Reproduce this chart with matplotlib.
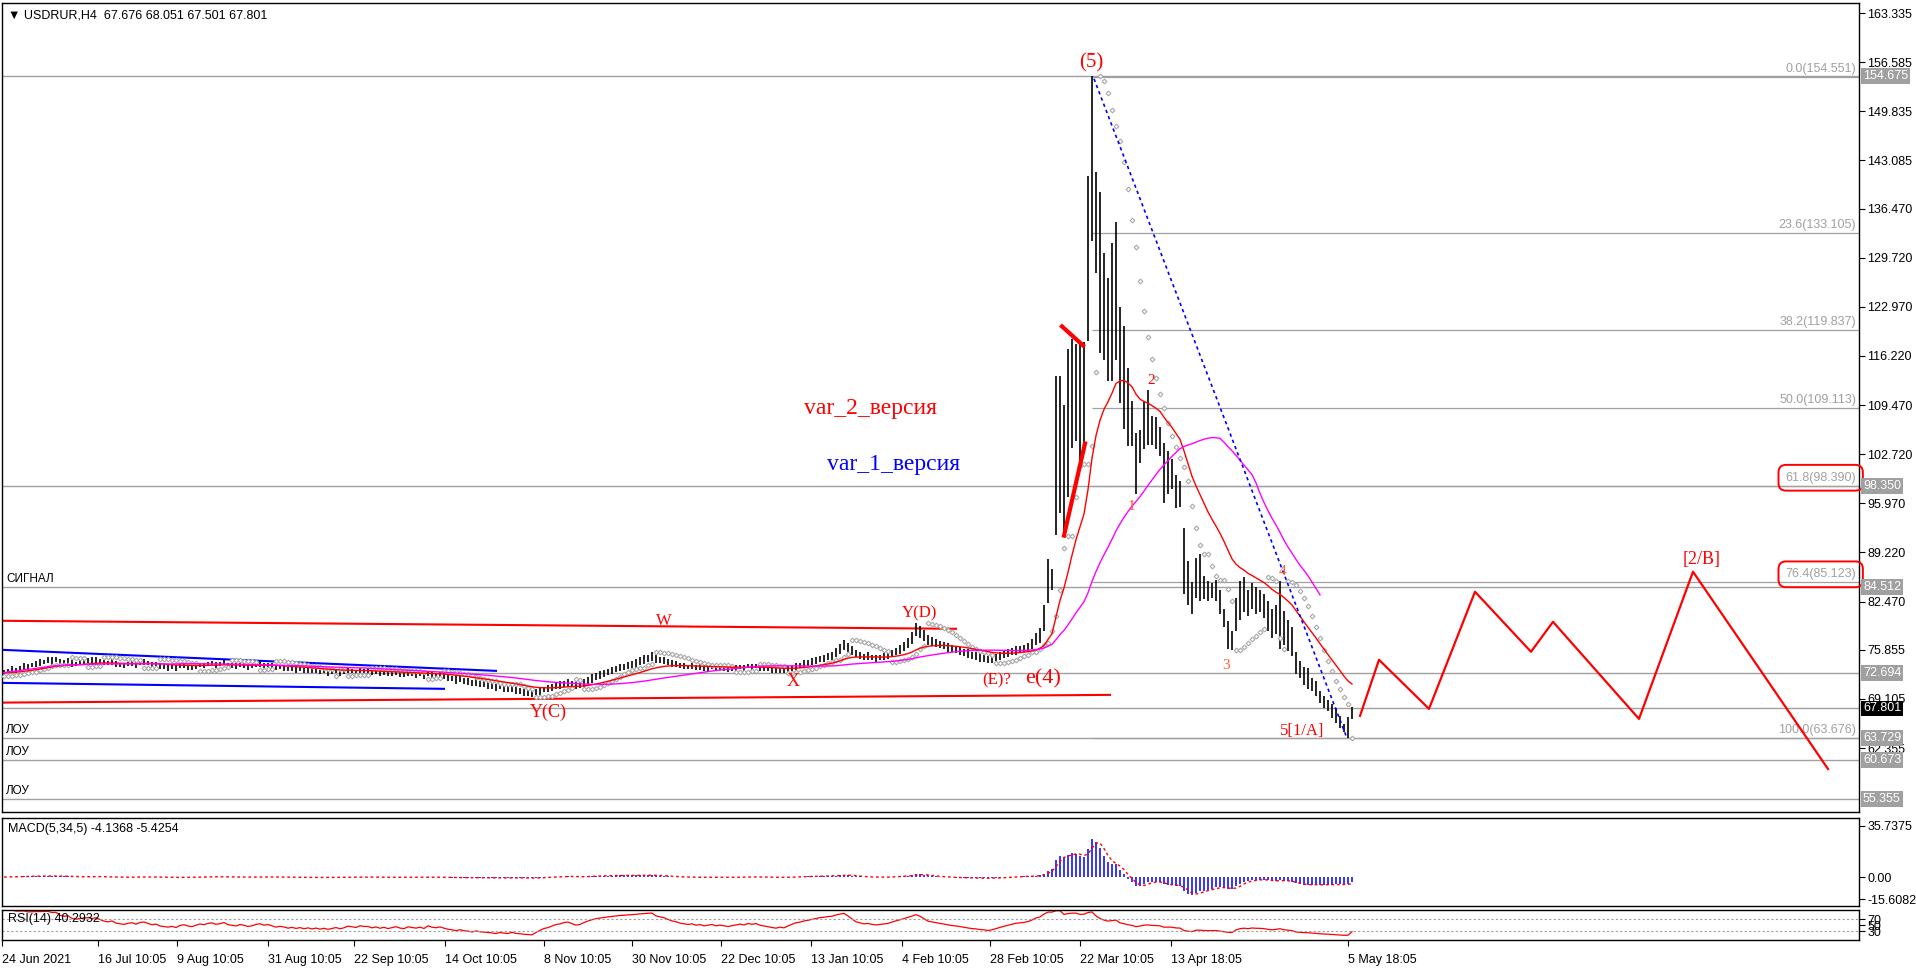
import numpy as np
import pandas as pd
import matplotlib
matplotlib.use("Agg")
import matplotlib.pyplot as plt

# ---- price data, one value every second H4 bar ----
flat_mid = [
    72.7, 72.9, 73.1, 73.0, 73.3, 73.6, 73.5, 73.8, 73.9, 74.1,
    74.2, 74.4, 74.3, 74.5, 74.2, 74.1, 74.3, 74.0, 73.9, 74.1,
    74.2, 74.4, 74.3, 74.5, 74.3, 74.1, 74.0, 74.2, 73.9, 73.8,
    73.7, 73.9, 74.0, 73.8, 74.1, 74.2, 74.0, 73.8, 73.9, 73.6,
    73.5, 73.4, 73.5, 73.3, 73.6, 73.7, 73.5, 73.4, 73.6, 73.8,
    73.7, 73.9, 74.0, 73.8, 73.9, 74.1, 73.8, 73.7, 73.6, 73.8,
    73.7, 73.5, 73.6, 73.8, 73.9, 73.7, 73.8, 73.6, 73.4, 73.5,
    73.4, 73.2, 73.3, 73.1, 73.2, 73.0, 73.1, 72.9, 73.0, 72.8,
    72.9, 72.7, 72.8, 72.9, 72.7, 72.8, 73.0, 72.9, 72.8, 73.0,
    72.9, 72.9, 72.7, 72.8, 72.6, 72.7, 72.5, 72.6, 72.7, 72.5,
    72.4, 72.6, 72.5, 72.4, 72.5, 72.3, 72.6, 72.4, 72.3, 72.4,
    72.2, 72.0, 71.9, 71.7, 71.8, 71.6, 71.5, 71.3, 71.4, 71.2,
    71.1, 71.0, 70.9, 70.7, 70.8, 70.6, 70.5, 70.6, 70.3, 70.2,
    70.0, 69.9, 69.8, 70.0, 70.2, 70.4, 70.5, 70.7, 70.9, 71.0,
    71.2, 71.3, 71.1, 70.9, 71.0, 71.3, 71.6, 71.9, 72.2, 72.4,
    72.6, 72.8, 73.0, 73.2, 73.4, 73.5, 73.7, 73.8, 74.0, 74.3,
    74.5, 74.7, 74.9, 74.6, 74.5, 74.4, 74.2, 74.0, 73.9, 73.7,
    73.6, 73.5, 73.6, 73.4, 73.5, 73.3, 73.4, 73.5, 73.3, 73.4,
    73.3, 73.2, 73.3, 73.4, 73.5, 73.4, 73.6, 73.5, 73.6, 73.4,
    73.3, 73.2, 73.1, 73.0, 73.1, 73.0, 73.2, 73.4, 73.6, 73.7,
    73.9, 74.0, 74.2, 74.4, 74.6, 74.7, 74.9, 75.0, 75.5, 76.0,
    76.5, 76.2, 75.8, 75.3, 75.1, 74.9, 75.0, 74.8, 74.7, 74.8,
    74.9, 75.0, 75.3, 75.6, 75.9, 76.3, 76.8, 77.5, 78.6, 78.3,
    77.8, 77.2, 77.0, 76.8, 76.6, 76.4, 76.2, 76.0, 75.9, 75.7,
    75.5, 75.3, 75.1, 75.0, 74.8, 74.7, 74.5, 74.6, 74.8, 75.0,
    75.2, 75.4, 75.6, 75.8, 75.9, 76.0, 76.2, 76.6, 77.3, 77.8,
]
flat_half = [
    0.4, 0.3, 0.5, 0.4, 0.3, 0.5, 0.4, 0.3, 0.4, 0.5,
    0.3, 0.4, 0.5, 0.3, 0.4, 0.3, 0.4, 0.5, 0.3, 0.4,
    0.4, 0.3, 0.5, 0.4, 0.3, 0.4, 0.3, 0.5, 0.4, 0.3,
    0.4, 0.3, 0.4, 0.5, 0.3, 0.4, 0.3, 0.4, 0.3, 0.4,
    0.3, 0.4, 0.3, 0.4, 0.3, 0.3, 0.4, 0.3, 0.4, 0.3,
    0.4, 0.3, 0.3, 0.4, 0.3, 0.4, 0.3, 0.3, 0.4, 0.3,
    0.3, 0.4, 0.3, 0.3, 0.4, 0.3, 0.3, 0.4, 0.3, 0.3,
    0.4, 0.3, 0.3, 0.4, 0.3, 0.3, 0.4, 0.3, 0.4, 0.3,
    0.3, 0.4, 0.3, 0.3, 0.4, 0.3, 0.4, 0.3, 0.3, 0.4,
    0.3, 0.4, 0.3, 0.3, 0.4, 0.3, 0.3, 0.4, 0.3, 0.4,
    0.3, 0.4, 0.3, 0.4, 0.3, 0.4, 0.3, 0.4, 0.3, 0.4,
    0.4, 0.5, 0.4, 0.5, 0.4, 0.4, 0.5, 0.4, 0.5, 0.4,
    0.4, 0.5, 0.4, 0.5, 0.4, 0.5, 0.4, 0.5, 0.5, 0.4,
    0.5, 0.4, 0.5, 0.4, 0.5, 0.4, 0.5, 0.5, 0.4, 0.5,
    0.4, 0.5, 0.4, 0.5, 0.4, 0.5, 0.5, 0.6, 0.5, 0.5,
    0.5, 0.4, 0.5, 0.4, 0.5, 0.4, 0.5, 0.5, 0.6, 0.5,
    0.6, 0.5, 0.6, 0.5, 0.4, 0.5, 0.4, 0.5, 0.4, 0.4,
    0.4, 0.3, 0.4, 0.3, 0.4, 0.3, 0.4, 0.3, 0.4, 0.3,
    0.3, 0.4, 0.3, 0.4, 0.3, 0.4, 0.3, 0.4, 0.3, 0.4,
    0.4, 0.3, 0.4, 0.3, 0.4, 0.3, 0.4, 0.4, 0.5, 0.4,
    0.5, 0.4, 0.5, 0.5, 0.4, 0.5, 0.5, 0.6, 0.6, 0.7,
    0.7, 0.6, 0.6, 0.5, 0.5, 0.4, 0.5, 0.4, 0.5, 0.4,
    0.5, 0.4, 0.5, 0.5, 0.6, 0.6, 0.7, 0.8, 0.9, 0.8,
    0.8, 0.7, 0.6, 0.6, 0.5, 0.5, 0.6, 0.5, 0.5, 0.6,
    0.5, 0.6, 0.5, 0.5, 0.6, 0.5, 0.5, 0.6, 0.5, 0.5,
    0.5, 0.6, 0.5, 0.6, 0.5, 0.5, 0.6, 0.7, 0.8, 1.0,
]
spike_high = [
    82.0, 88.3, 87.0, 113.5, 113.5, 109.5, 117.2, 118.6, 117.9, 118.2,
    118.2, 140.9, 154.7, 141.5, 138.8, 130.3, 126.9, 131.7, 134.6, 122.9,
    120.4, 114.5, 110.1, 105.6, 106.0, 110.1, 111.5, 108.0, 107.8, 106.5,
    104.3, 103.2, 102.0, 99.8, 99.0, 92.6, 88.0, 85.1, 88.5, 89.0,
    86.0, 85.3, 85.0, 85.5, 84.0, 81.5, 79.8, 78.5, 83.0, 85.3,
    85.8, 84.0, 85.0, 84.5, 84.0, 83.5, 82.5, 81.5, 82.0, 85.3,
    81.2, 80.0, 79.0, 75.5, 74.3, 73.5, 73.4, 72.0, 71.5, 70.2,
    69.5, 69.0, 68.4, 67.8, 66.8, 65.7, 66.6, 68.05,
]
spike_low = [
    78.5, 82.3, 84.0, 91.6, 94.6, 91.5, 96.8, 103.6, 104.6, 101.4,
    103.9, 118.3, 132.0, 127.6, 116.6, 115.6, 112.8, 112.8, 115.6, 109.8,
    106.2, 103.9, 103.9, 97.3, 101.5, 103.5, 104.0, 104.0, 103.5, 102.5,
    96.0, 97.3, 98.0, 95.4, 95.5, 83.5, 82.0, 80.8, 83.0, 82.6,
    82.8, 82.6, 83.0, 82.6, 80.8, 79.0, 76.0, 75.8, 78.5, 80.0,
    81.0, 80.5, 81.5, 80.8, 81.0, 80.2, 78.5, 77.5, 78.0, 76.0,
    76.5, 75.7, 75.0, 72.5, 72.0, 71.0, 70.5, 70.2, 69.5, 68.5,
    67.8, 67.5, 66.5, 65.8, 65.1, 64.5, 63.68, 66.4,
]

# forecast zigzag (bar index, price)
zig_x = [339, 343.75, 356.25, 367.75, 381.75, 387.25, 408.75, 422.25, 456]
zig_y = [66.77, 74.48, 67.74, 83.83, 75.58, 79.70, 66.36, 86.58, 59.48]

# horizontal lines and fibo levels
hlines = [154.675, 98.350, 84.512, 72.694, 67.801, 63.729, 60.673, 55.355]
fib_pct = ["0.0", "23.6", "38.2", "50.0", "61.8", "76.4", "100.0"]
fib_lvl = [154.551, 133.105, 119.837, 109.113, 98.390, 85.123, 63.676]
fib_start = 272

price_ticks = [163.335, 156.585, 149.835, 143.085, 136.470, 129.720, 122.970,
               116.220, 109.470, 102.720, 95.970, 89.220, 82.470, 75.855,
               69.105, 62.355]
gray_tags = [154.675, 98.350, 84.512, 72.694, 63.729, 60.673, 55.355]
last_price = 67.801

date_pos = [-0.5, 23.5, 43.25, 66, 87.5, 110.25, 135, 157, 179.25, 201.75,
            224.5, 246.5, 269, 291.75, 336]
date_lbl = ["24 Jun 2021", "16 Jul 10:05", "9 Aug 10:05", "31 Aug 10:05",
            "22 Sep 10:05", "14 Oct 10:05", "8 Nov 10:05", "30 Nov 10:05",
            "22 Dec 10:05", "13 Jan 10:05", "4 Feb 10:05", "28 Feb 10:05",
            "22 Mar 10:05", "13 Apr 18:05", "5 May 18:05"]

# wave marks: text, bar index, price, size, colour
waves = [
    ("(5)", 271.75, 156.5, 15, "red"),
    ("2", 286.75, 112.85, 11, "red"),
    ("1", 281.75, 95.5, 11, "#ff5a36"),
    ("3", 305.5, 73.65, 11, "#ff5a36"),
    ("4", 319.75, 86.6, 11, "#ff5a36"),
    ("5[1/A]", 324.5, 64.7, 12, "red"),
    ("(E)?", 248.25, 71.6, 12, "red"),
    ("e(4)", 259.75, 71.9, 16, "red"),
    ("X", 197.25, 71.45, 13, "red"),
    ("Y(C)", 136, 67.2, 13, "red"),
    ("W", 165, 79.8, 12, "red"),
    ("Y(D)", 228.75, 80.8, 12, "red"),
    ("[2/B]", 424.5, 88.2, 13, "red"),
]


def parabolic_sar(high, low, step=0.02, max_step=0.2):
    n = len(high)
    sar = np.zeros(n)
    up = True
    af = step
    ep = high[0]
    sar[0] = low[0]
    for i in range(1, n):
        s = sar[i - 1] + af * (ep - sar[i - 1])
        if up:
            s = min(s, low[i - 1], low[max(i - 2, 0)])
            if low[i] < s:
                up, s, ep, af = False, ep, low[i], step
            elif high[i] > ep:
                ep, af = high[i], min(af + step, max_step)
        else:
            s = max(s, high[i - 1], high[max(i - 2, 0)])
            if high[i] > s:
                up, s, ep, af = True, ep, high[i], step
            elif low[i] < ep:
                ep, af = low[i], min(af + step, max_step)
        sar[i] = s
    return sar


def rsi(close, n):
    d = close.diff()
    gain = d.clip(lower=0).ewm(alpha=1 / n, adjust=False).mean()
    loss = (-d.clip(upper=0)).ewm(alpha=1 / n, adjust=False).mean()
    return 100 - 100 / (1 + gain / loss)


mid = np.array(flat_mid)
half = np.array(flat_half)
high = np.concatenate([mid + half, spike_high])
low = np.concatenate([mid - half, spike_low])
close = pd.Series((high + low) / 2)
x = np.arange(len(high))

ma_fast = close.ewm(span=20, adjust=False).mean()
ma_slow = close.rolling(42, min_periods=1).mean()
slow_end = 330
sar = parabolic_sar(high, low)
macd = close.ewm(span=3, adjust=False).mean() - close.ewm(span=17, adjust=False).mean()
signal = macd.rolling(3, min_periods=1).mean()
rsi_line = rsi(close, 14)

# ---- figure ----
W, H = 1916, 968
fig = plt.figure(figsize=(W / 100, H / 100), dpi=100)


def panel(top, bottom):
    return [2 / W, 1 - bottom / H, 1857 / W, (bottom - top) / H]


ax = fig.add_axes(panel(3, 812))
ax_m = fig.add_axes(panel(818, 906), sharex=ax)
ax_r = fig.add_axes(panel(910, 940), sharex=ax)

sans = ["Liberation Sans", "DejaVu Sans"]
serif = "Liberation Serif"
gray = "#a0a0a0"

for a in (ax, ax_m, ax_r):
    for sp in a.spines.values():
        sp.set_linewidth(1.0)
        sp.set_color("black")
    a.yaxis.tick_right()
    a.tick_params(axis="y", direction="out", length=4, pad=2, labelsize=9,
                  width=0.8)
ax.set_xlim(-0.5, 463.75)
ax.set_ylim(53.57, 164.71)

# horizontal lines & fibo
for v in hlines:
    ax.axhline(v, color=gray, lw=1.0, zorder=1)
ax.hlines(fib_lvl, fib_start, 463.75, color=gray, lw=0.9, zorder=1)
for pct, lvl in zip(fib_pct, fib_lvl):
    box = None
    if pct in ("61.8", "76.4"):
        box = dict(boxstyle="round,pad=0.55,rounding_size=0.6", fc="none",
                   ec="red", lw=1.4)
    ax.annotate(f"{pct}({lvl:.3f})", xy=(1, lvl),
                xycoords=("axes fraction", "data"), xytext=(-3, 2),
                textcoords="offset pixels", ha="right", va="bottom",
                fontsize=9, color=gray, family=sans, bbox=box,
                annotation_clip=False)

# trend channels
ax.plot([-0.5, 238], [79.84, 78.74], color="red", lw=1.5)
ax.plot([-0.5, 276.5], [68.60, 69.66], color="red", lw=1.5)
ax.plot([-0.5, 123], [75.85, 72.96], color="blue", lw=1.5)
ax.plot([-0.5, 110], [71.31, 70.49], color="blue", lw=1.5)

# price bars and indicators
ax.vlines(x, low, high, color="black", lw=1.2, zorder=3)
ax.plot(x, sar, ls="none", marker="D", ms=2.4, mfc="white", mec="#a8a8a8",
        mew=0.8, zorder=4)
ax.plot(x, ma_fast, color="red", lw=1.0, zorder=5)
ax.plot(x[:slow_end], ma_slow[:slow_end], color="magenta", lw=1.0, zorder=5)

# wave drawings
ax.plot([265, 270.25], [91.54, 104.2], color="red", lw=3, zorder=6)
ax.plot([264.5, 269.75], [120.28, 117.67], color="red", lw=3, zorder=6)
ax.plot([272.5, 335.75], [154.3, 63.7], color="blue", lw=1.2, ls=(0, (2, 2)),
        zorder=6)
ax.plot(zig_x, zig_y, color="red", lw=1.6, zorder=6)

for txt, wx, wy, fs, col in waves:
    ax.text(wx, wy, txt, fontsize=fs, color=col, family=serif,
            ha="center", va="center", zorder=7)
ax.text(200, 109.0, "var_2_версия", fontsize=17, color="red", family=serif,
        ha="left", va="center")
ax.text(205.75, 101.3, "var_1_версия", fontsize=17, color="blue",
        family=serif, ha="left", va="center")

# left labels on the horizontal lines
for v, t in [(84.512, "СИГНАЛ"), (63.729, "ЛОУ"), (60.673, "ЛОУ"),
             (55.355, "ЛОУ")]:
    ax.annotate(t, xy=(0, v), xycoords=("axes fraction", "data"),
                xytext=(4, 2), textcoords="offset pixels", ha="left",
                va="bottom", fontsize=8.5, family=sans)

ax.text(0.003, 0.985, "\u25bc USDRUR,H4  67.676 68.051 67.501 67.801",
        transform=ax.transAxes, fontsize=9, family=sans, va="center")

# price scale
ax.set_yticks(price_ticks)
ax.set_yticklabels([f"{v:.3f}" for v in price_ticks])
for v in gray_tags:
    ax.annotate(f"{v:.3f}", xy=(1, v), xycoords=("axes fraction", "data"),
                xytext=(4, 0), textcoords="offset pixels", ha="left",
                va="center", fontsize=9, color="white", family=sans,
                bbox=dict(boxstyle="square,pad=0.15", fc=gray, ec="none"),
                annotation_clip=False)
ax.annotate(f"{last_price:.3f}", xy=(1, last_price),
            xycoords=("axes fraction", "data"), xytext=(4, 0),
            textcoords="offset pixels", ha="left", va="center", fontsize=9,
            color="white", family=sans,
            bbox=dict(boxstyle="square,pad=0.15", fc="black", ec="none"),
            annotation_clip=False)

# MACD
ax_m.bar(x, macd, width=0.55, color="#3a3aff", zorder=2)
ax_m.plot(x, signal, color="red", lw=1.0, ls=(0, (2, 2)), zorder=3)
ax_m.set_ylim(-20.3, 41.3)
ax_m.set_yticks([35.7375, 0.0, -15.6082])
ax_m.set_yticklabels(["35.7375", "0.00", "-15.6082"])
ax_m.text(0.003, 0.88, "MACD(5,34,5) -4.1368 -5.4254",
          transform=ax_m.transAxes, fontsize=9, family=sans, va="center")

# RSI
ax_r.plot(x, rsi_line, color="red", lw=0.9)
ax_r.axhline(70, color=gray, lw=0.8, ls=(0, (2, 2)))
ax_r.axhline(30, color=gray, lw=0.8, ls=(0, (2, 2)))
ax_r.set_ylim(0, 100)
ax_r.set_yticks([70, 50, 30])
ax_r.set_yticklabels(["70", "50", "30"])
ax_r.text(0.003, 0.7, "RSI(14) 40.2932", transform=ax_r.transAxes,
          fontsize=9, family=sans, va="center")

for a in (ax, ax_m, ax_r):
    for lab in a.get_yticklabels():
        lab.set_family(sans)
        lab.set_fontsize(9)

ax.tick_params(axis="x", bottom=False, labelbottom=False)
ax_m.tick_params(axis="x", bottom=False, labelbottom=False)
ax_r.set_xticks(date_pos)
ax_r.set_xticklabels(date_lbl, ha="left", fontsize=9, family=sans)
ax_r.tick_params(axis="x", direction="out", length=4, pad=6, width=0.8)

fig.savefig("out.png", dpi=100)
